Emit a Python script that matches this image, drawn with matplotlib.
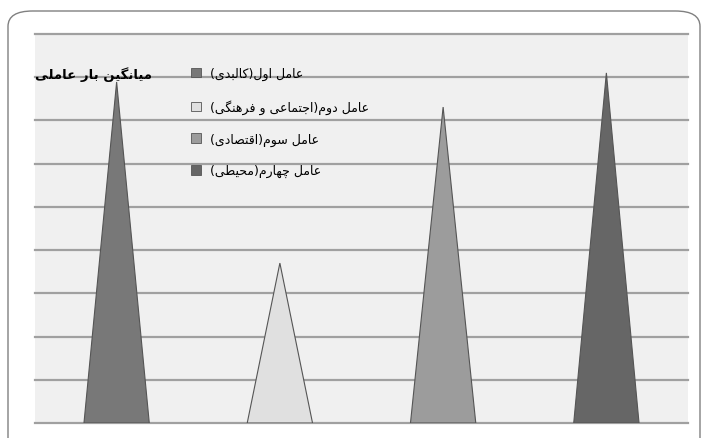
import matplotlib
matplotlib.use('Agg')
import matplotlib.pyplot as plt
from matplotlib.patches import Patch, FancyBboxPatch
import numpy as np

# data (no tick labels, grid step taken as 0.1)
categories = ['عامل اول(کالبدی)', 'عامل دوم(اجتماعی و فرهنگی)',
              'عامل سوم(اقتصادی)', 'عامل چهارم(محیطی)']
loadings = [0.789, 0.370, 0.731, 0.810]
colors = ['#787878', '#e0e0e0', '#9c9c9c', '#666666']
y_title = 'میانگین بار عاملی'

# tiny persian shaper: (isolated, final, initial, medial)
FORMS = {
    'ا': (0xFE8D, 0xFE8E, None, None), 'آ': (0xFE81, 0xFE82, None, None),
    'ب': (0xFE8F, 0xFE90, 0xFE91, 0xFE92), 'پ': (0xFB56, 0xFB57, 0xFB58, 0xFB59),
    'ت': (0xFE95, 0xFE96, 0xFE97, 0xFE98), 'ج': (0xFE9D, 0xFE9E, 0xFE9F, 0xFEA0),
    'چ': (0xFB7A, 0xFB7B, 0xFB7C, 0xFB7D), 'ح': (0xFEA1, 0xFEA2, 0xFEA3, 0xFEA4),
    'خ': (0xFEA5, 0xFEA6, 0xFEA7, 0xFEA8), 'د': (0xFEA9, 0xFEAA, None, None),
    'ذ': (0xFEAB, 0xFEAC, None, None), 'ر': (0xFEAD, 0xFEAE, None, None),
    'ز': (0xFEAF, 0xFEB0, None, None), 'ژ': (0xFB8A, 0xFB8B, None, None),
    'س': (0xFEB1, 0xFEB2, 0xFEB3, 0xFEB4), 'ش': (0xFEB5, 0xFEB6, 0xFEB7, 0xFEB8),
    'ص': (0xFEB9, 0xFEBA, 0xFEBB, 0xFEBC), 'ض': (0xFEBD, 0xFEBE, 0xFEBF, 0xFEC0),
    'ط': (0xFEC1, 0xFEC2, 0xFEC3, 0xFEC4), 'ظ': (0xFEC5, 0xFEC6, 0xFEC7, 0xFEC8),
    'ع': (0xFEC9, 0xFECA, 0xFECB, 0xFECC), 'غ': (0xFECD, 0xFECE, 0xFECF, 0xFED0),
    'ف': (0xFED1, 0xFED2, 0xFED3, 0xFED4), 'ق': (0xFED5, 0xFED6, 0xFED7, 0xFED8),
    'ک': (0xFB8E, 0xFB8F, 0xFB90, 0xFB91), 'گ': (0xFB92, 0xFB93, 0xFB94, 0xFB95),
    'ل': (0xFEDD, 0xFEDE, 0xFEDF, 0xFEE0), 'م': (0xFEE1, 0xFEE2, 0xFEE3, 0xFEE4),
    'ن': (0xFEE5, 0xFEE6, 0xFEE7, 0xFEE8), 'ه': (0xFEE9, 0xFEEA, 0xFEEB, 0xFEEC),
    'و': (0xFEED, 0xFEEE, None, None), 'ی': (0xFBFC, 0xFBFD, 0xFBFE, 0xFBFF),
}
MIRROR = {'(': ')', ')': '('}


def shape(s):
    out = []
    for i, c in enumerate(s):
        if c not in FORMS:
            out.append(MIRROR.get(c, c))
            continue
        prev = s[i - 1] if i > 0 else ''
        nxt = s[i + 1] if i + 1 < len(s) else ''
        join_prev = prev in FORMS and FORMS[prev][2] is not None
        join_next = FORMS[c][2] is not None and nxt in FORMS
        iso, fin, ini, med = FORMS[c]
        if join_prev and join_next:
            code = med
        elif join_prev:
            code = fin
        elif join_next:
            code = ini
        else:
            code = iso
        out.append(chr(code))
    return ''.join(out[::-1])


plt.rcParams['font.family'] = ['DejaVu Sans', 'Noto Sans']

fig = plt.figure(figsize=(7.04, 4.39), dpi=100)

# rounded chart frame, cut by the picture edge at the bottom
frame = FancyBboxPatch((8 / 704, -0.2), 692 / 704, 1.2 - 12 / 439,
                       boxstyle='round,pad=0,rounding_size=0.035',
                       transform=fig.transFigure, facecolor='white',
                       edgecolor='#808080', lw=1.0, zorder=-5)
fig.patches.append(frame)

ax = fig.add_axes([35 / 704, 1 - 424 / 439, 653 / 704, 389 / 439])
ax.set_zorder(2)
ax.set_facecolor('#f0f0f0')

grid_vals = np.arange(0, 1.0, 0.1)
for v in grid_vals:
    ax.axhline(v, color='#a0a0a0', lw=1.6, zorder=1, clip_on=False)

x = np.arange(len(categories))
half = 0.2
for xi, val, col in zip(x, loadings, colors):
    ax.fill([xi - half, xi, xi + half], [0, val, 0], facecolor=col,
            edgecolor='#555555', lw=0.8, zorder=2)

ax.set_xlim(-0.5, len(categories) - 0.5)
ax.set_ylim(0, 0.9)
ax.set_xticks([])
ax.set_yticks([])
for s in ax.spines.values():
    s.set_visible(False)

handles = [Patch(facecolor=c, edgecolor='#555555', lw=0.6) for c in colors]
ax.legend(handles, [shape(c) for c in categories], loc='upper left',
          bbox_to_anchor=(0.232, 0.928), frameon=False, fontsize=9,
          handlelength=0.75, handleheight=0.75, handletextpad=0.7,
          labelspacing=1.5, borderaxespad=0)

ax.text(0.0, 0.898, shape(y_title), transform=ax.transAxes,
        fontsize=9.5, fontweight='bold', ha='left', va='center',
        color='black', zorder=3)

fig.savefig('out.png', dpi=100)
